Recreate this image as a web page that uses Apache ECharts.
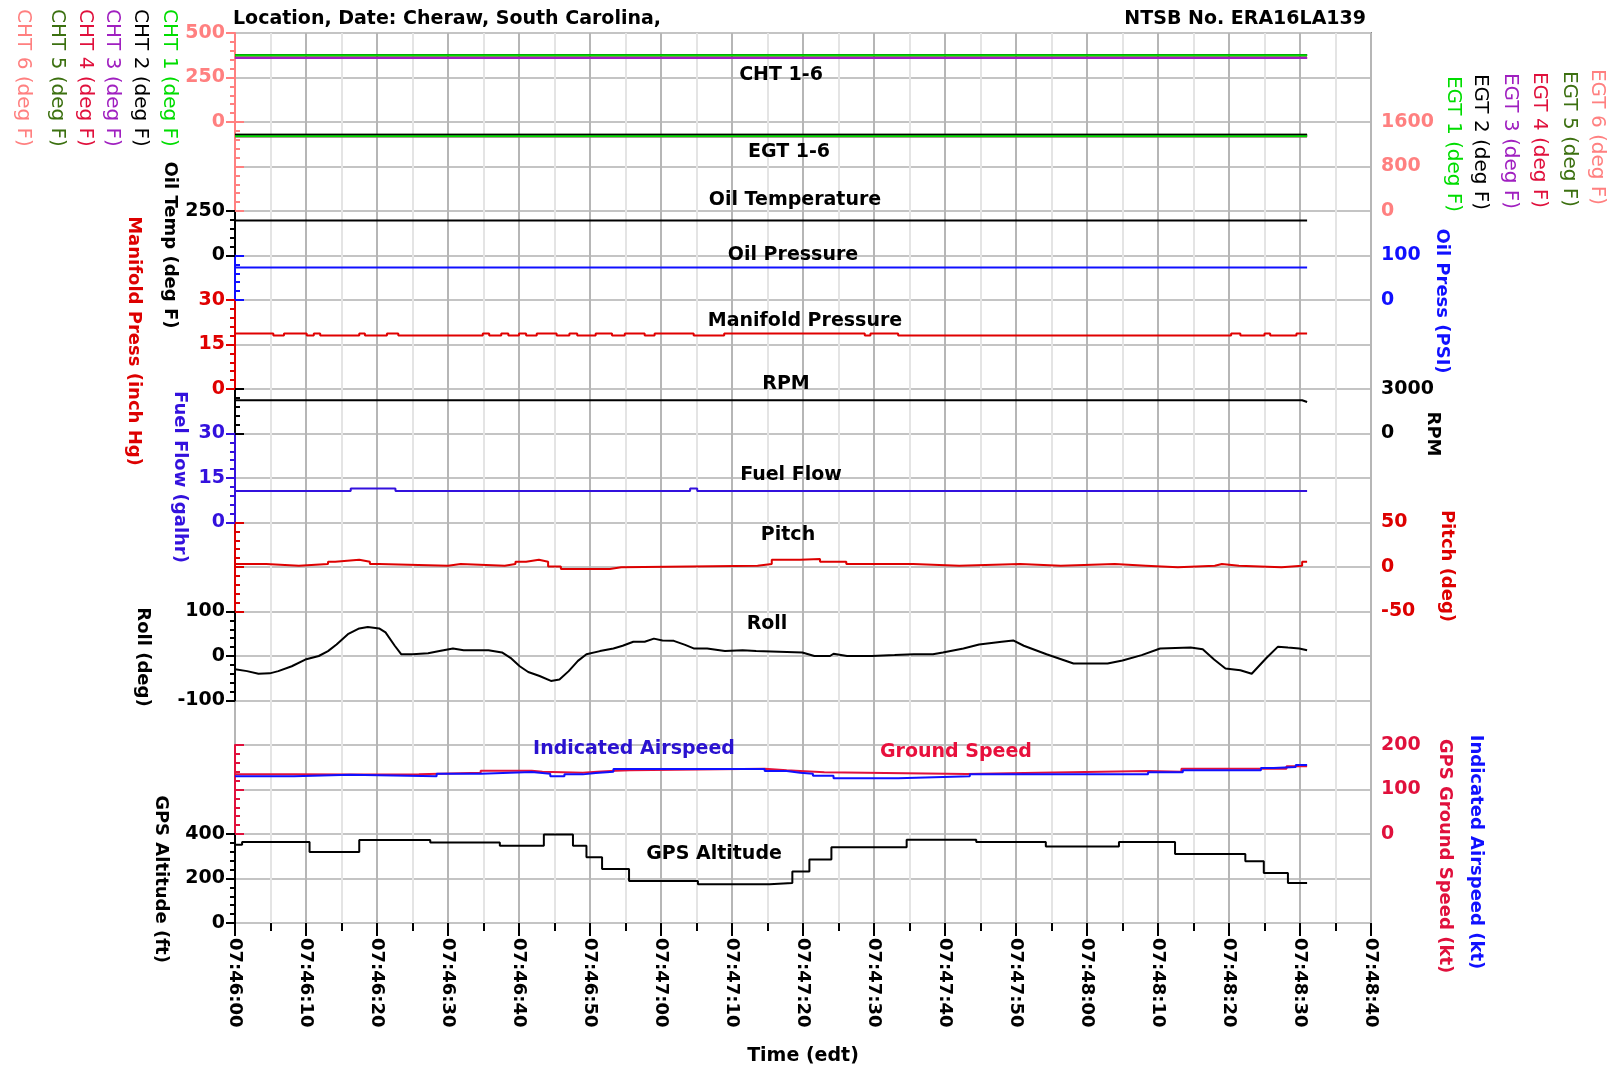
<!DOCTYPE html>
<html>
<head>
<meta charset="utf-8">
<script src="https://cdn.jsdelivr.net/npm/echarts@6/dist/echarts.min.js"></script>
<style>
html, body { margin: 0; padding: 0; background: #fff; }
#chart { width: 1623px; height: 1070px; }
</style>
</head>
<body>
<div id="chart"></div>
<script>
// Engine and flight parameters, time in seconds after 07:46:00 EDT
const timeStartSec = 7 * 3600 + 46 * 60;
const axisEndSec = 160;          // 07:48:40
const recordEndSec = 151;        // last recorded sample

// Cylinder head temperatures, CHT 1..6 (deg F)
const chtValues = [375, 375, 360, 361, 375, 360];
// Exhaust gas temperatures, EGT 1..6 (deg F)
const egtValues = [1345, 1370, 1345, 1345, 1370, 1345];
const oilTempValue = 197;        // deg F
const oilPressValue = 73;        // PSI
const rpmData = [[0, 2240], [150.3, 2240], [151, 2120]];

// Stepped series: [seconds, value] holds until next sample
const manifoldData = [
  [0, 18.7], [5.4, 18.0], [6.9, 18.7], [10.1, 18.0], [11.1, 18.7], [12.0, 18.0],
  [17.5, 18.7], [18.3, 18.0], [21.4, 18.7], [23.0, 18.0], [34.9, 18.7], [35.8, 18.0],
  [37.5, 18.7], [38.5, 18.0], [40.0, 18.7], [41.0, 18.0], [42.5, 18.7], [45.3, 18.0],
  [47.1, 18.7], [48.2, 18.0], [50.8, 18.7], [53.1, 18.0], [54.9, 18.7], [57.7, 18.0],
  [59.1, 18.7], [64.6, 18.0], [68.9, 18.7], [88.7, 18.0], [89.5, 18.7], [93.4, 18.0],
  [140.3, 18.7], [141.6, 18.0], [145.0, 18.7], [145.8, 18.0], [149.5, 18.7], [151, 18.7]
];
const fuelFlowData = [[0, 10.6], [16.3, 11.5], [22.6, 10.6], [64.1, 11.5], [65.1, 10.6], [151, 10.6]];
const pitchData = [
  [0, 3.4], [4.4, 1.5], [9.0, 3.4], [13.1, 6.0], [14.1, 8.2], [17.5, 6.0], [19.0, 3.4],
  [20.3, 1.5], [30.0, 3.4], [31.8, 1.5], [38.0, 3.4], [39.5, 6.0], [41.0, 8.2], [42.8, 6.0],
  [44.1, 0.7], [45.9, -2.3], [52.8, -0.4], [54.4, 1.5], [73.6, 3.4], [75.6, 8.2], [79.6, 9.0],
  [82.4, 6.0], [86.1, 3.4], [95.5, 1.5], [102.0, 3.4], [110.6, 1.5], [116.3, 3.4], [123.9, 1.5],
  [128.3, -0.4], [132.8, 1.5], [138.0, 3.4], [139.0, 1.5], [141.4, -0.4], [147.4, 1.5],
  [150.3, 6.0], [151, 6.0]
];
const rollData = [
  [0, -30], [1.7, -34], [3.3, -40], [4.9, -39], [6.1, -34], [8.0, -23], [9.9, -8], [11.8, 0],
  [13.1, 11], [14.3, 26], [15.9, 49], [17.5, 62], [18.7, 65], [20.3, 62], [21.2, 53], [22.5, 23],
  [23.4, 4], [25.0, 4], [27.2, 6], [28.8, 11], [30.7, 17], [32.2, 13], [35.7, 13], [37.6, 8],
  [38.8, -4], [40.1, -23], [41.3, -36], [42.9, -45], [44.5, -56], [45.7, -53], [47.0, -34],
  [48.3, -11], [49.5, 4], [51.4, 11], [53.3, 17], [54.6, 23], [56.1, 32], [57.7, 32], [59.0, 39],
  [60.2, 35], [61.8, 34], [63.4, 25], [64.6, 17], [66.5, 17], [69.0, 11], [71.5, 13], [73.4, 11],
  [79.9, 8], [81.6, 0], [83.8, 0], [84.3, 5], [86.2, 0], [89.7, 0], [92.9, 2], [95.6, 4],
  [98.3, 4], [99.7, 8], [102.6, 17], [104.8, 26], [108.0, 32], [109.6, 35], [111.1, 23],
  [114.3, 4], [118.1, -17], [122.9, -17], [125.0, -10], [127.7, 2], [130.3, 17], [134.6, 19],
  [136.3, 15], [137.9, -8], [139.5, -28], [141.6, -32], [143.2, -40], [145.3, -4], [146.9, 21],
  [148.3, 19], [149.9, 17], [151, 13]
];
const groundSpeedData = [
  [0, 134], [8.3, 133.5], [16.2, 134], [25.9, 137.7], [34.6, 142.2], [41.8, 140], [43.3, 137.7],
  [49.0, 140], [51.0, 142.2], [53.6, 143], [55.6, 146.7], [74.6, 143], [77.7, 141.5],
  [79.6, 138.5], [83.0, 134.7], [103.0, 137.7], [113.2, 141.5], [128.6, 140], [133.3, 146.7],
  [148.1, 152], [151, 152]
];
const airspeedData = [
  [0, 129.5], [8.3, 133.2], [16.2, 129.5], [28.4, 135.5], [34.6, 139.2], [41.8, 135.5],
  [44.4, 129.5], [46.4, 134], [49.0, 137], [50.8, 140], [53.3, 146], [74.6, 141.5],
  [77.7, 137.7], [79.6, 135.5], [81.4, 130.7], [84.3, 125.5], [93.4, 129.5], [103.5, 134],
  [128.6, 138.5], [133.5, 143], [144.5, 148.2], [146.3, 150.5], [149.4, 155], [151, 155]
];
const gpsAltitudeData = [
  [0, 352], [1.0, 364], [10.5, 319], [17.5, 373], [27.5, 362], [37.3, 347], [43.5, 398],
  [47.6, 347], [49.5, 295], [51.7, 243], [55.5, 189], [65.2, 174], [75.3, 180], [78.5, 232],
  [80.9, 285], [84.0, 340], [94.6, 374], [104.4, 364], [114.2, 344], [124.5, 364], [132.4, 310],
  [142.3, 277], [144.9, 225], [148.3, 180], [151, 180]
];

const cylColors = ['#00dd00', '#000000', '#a020c0', '#e0103c', '#3c7010', '#ff8080'];
const FONT = 'DejaVu Sans';

// Plot frame: 20 equal rows
const plotLeft = 235, plotTop = 33, plotWidth = 1136, plotHeight = 890;
const rowH = plotHeight / 20;

const panels = [
  { rows: [0, 2], side: 'left', min: 0, max: 500, step: 250, color: '#ff8080' },      // CHT
  { rows: [2, 4], side: 'right', min: 0, max: 1600, step: 800, color: '#ff8080' },    // EGT
  { rows: [4, 5], side: 'left', min: 0, max: 250, step: 250, color: '#000000' },      // oil temp
  { rows: [5, 6], side: 'right', min: 0, max: 100, step: 100, color: '#1010ff' },     // oil press
  { rows: [6, 8], side: 'left', min: 0, max: 30, step: 15, color: '#e00000' },        // manifold
  { rows: [8, 9], side: 'right', min: 0, max: 3000, step: 3000, color: '#000000' },   // rpm
  { rows: [9, 11], side: 'left', min: 0, max: 30, step: 15, color: '#3311dd' },       // fuel flow
  { rows: [11, 13], side: 'right', min: -50, max: 50, step: 50, color: '#dd0000' },   // pitch
  { rows: [13, 15], side: 'left', min: -100, max: 100, step: 100, color: '#000000' }, // roll
  { rows: [16, 18], side: 'right', min: 0, max: 200, step: 100, color: '#e0103c' },   // speeds
  { rows: [18, 20], side: 'left', min: 0, max: 400, step: 200, color: '#000000' }     // altitude
];

function fmtTime(v) {
  const s = Math.round(timeStartSec + v);
  const p = n => String(n).padStart(2, '0');
  return p(Math.floor(s / 3600)) + ':' + p(Math.floor(s / 60) % 60) + ':' + p(s % 60);
}

const grids = [{ left: plotLeft, top: plotTop, width: plotWidth, height: plotHeight,
  show: true, borderColor: '#8a8a8a', borderWidth: 2, backgroundColor: '#fff' }];
const xAxes = [{
  gridIndex: 0, type: 'value', min: 0, max: axisEndSec, interval: 10,
  axisLine: { show: false },
  axisTick: { show: true, length: 13, lineStyle: { color: '#000', width: 2 } },
  minorTick: { show: true, splitNumber: 2, length: 8, lineStyle: { color: '#000', width: 2 } },
  splitLine: { show: true, lineStyle: { color: '#b6b6b6', width: 2 } },
  minorSplitLine: { show: true, lineStyle: { color: '#e4e4e4', width: 2 } },
  axisLabel: { rotate: -90, margin: 15, color: '#000', fontFamily: FONT, fontWeight: 'bold',
    fontSize: 18, formatter: fmtTime, showMinLabel: true, showMaxLabel: true }
}];
const yAxes = [{
  gridIndex: 0, type: 'value', min: 0, max: 20, interval: 1,
  axisLine: { show: false }, axisTick: { show: false }, axisLabel: { show: false },
  splitLine: { show: true, lineStyle: { color: '#c4c4c4', width: 2 } }
}];

panels.forEach((p, i) => {
  grids.push({ left: plotLeft, width: plotWidth, top: plotTop + p.rows[0] * rowH,
    height: (p.rows[1] - p.rows[0]) * rowH, show: false });
  xAxes.push({ gridIndex: i + 1, type: 'value', min: 0, max: axisEndSec, show: false });
  yAxes.push({
    gridIndex: i + 1, type: 'value', position: p.side, min: p.min, max: p.max, interval: p.step,
    axisLine: { show: true, lineStyle: { color: p.color, width: 2 } },
    axisTick: { show: true, length: 9, lineStyle: { color: p.color, width: 2 } },
    minorTick: { show: true, splitNumber: 5, length: 5, lineStyle: { color: p.color, width: 2 } },
    splitLine: { show: false },
    axisLabel: { color: p.color, fontFamily: FONT, fontWeight: 'bold', fontSize: 19, margin: 10,
      showMinLabel: true, showMaxLabel: true, formatter: v => String(v) }
  });
});

function line(panel, data, color, step) {
  return { type: 'line', xAxisIndex: panel + 1, yAxisIndex: panel + 1, data: data,
    step: step || false, symbol: 'none', silent: true,
    lineStyle: { color: color, width: 2 }, itemStyle: { color: color } };
}
const flat = v => [[0, v], [recordEndSec, v]];

const series = [];
[5, 4, 3, 2, 1, 0].forEach(k => series.push(line(0, flat(chtValues[k]), cylColors[k])));
[5, 4, 3, 2, 1, 0].forEach(k => series.push(line(1, flat(egtValues[k]), cylColors[k])));
series.push(line(2, flat(oilTempValue), '#000000'));
series.push(line(3, flat(oilPressValue), '#1010ff'));
series.push(line(4, manifoldData, '#e00000', 'end'));
series.push(line(5, rpmData, '#000000'));
series.push(line(6, fuelFlowData, '#3311dd', 'end'));
series.push(line(7, pitchData, '#dd0000', 'end'));
series.push(line(8, rollData, '#000000'));
series.push(line(9, groundSpeedData, '#e0103c', 'end'));
series.push(line(9, airspeedData, '#1010ff', 'end'));
series.push(line(10, gpsAltitudeData, '#000000', 'end'));

function txt(x, y, text, color, opt) {
  opt = opt || {};
  return { type: 'text', x: x, y: y, rotation: opt.vertical ? -Math.PI / 2 : 0, silent: true, z: 10,
    style: { text: text, fill: color, fontFamily: FONT, fontWeight: opt.weight || 'bold',
      fontSize: opt.size || 19, align: opt.align || 'center', verticalAlign: 'middle' } };
}
const V = { vertical: true, size: 18 };
const VR = { vertical: true, size: 20, weight: 'normal' };

const graphics = [
  txt(233, 19, 'Location, Date: Cheraw, South Carolina,', '#000', { align: 'left' }),
  txt(1366, 19, 'NTSB No. ERA16LA139', '#000', { align: 'right' }),
  txt(781, 75, 'CHT 1-6', '#000'),
  txt(789, 152, 'EGT 1-6', '#000'),
  txt(795, 200, 'Oil Temperature', '#000'),
  txt(793, 255, 'Oil Pressure', '#000'),
  txt(805, 321, 'Manifold Pressure', '#000'),
  txt(786, 384, 'RPM', '#000'),
  txt(791, 475, 'Fuel Flow', '#000'),
  txt(788, 535, 'Pitch', '#000'),
  txt(767, 624, 'Roll', '#000'),
  txt(634, 749, 'Indicated Airspeed', '#2a12d0'),
  txt(956, 752, 'Ground Speed', '#e8103c'),
  txt(714, 854, 'GPS Altitude', '#000'),
  txt(803, 1056, 'Time (edt)', '#000'),
  // left axis titles
  txt(169, 78, 'CHT 1 (deg F)', cylColors[0], VR),
  txt(140, 78, 'CHT 2 (deg F)', cylColors[1], VR),
  txt(112, 78, 'CHT 3 (deg F)', cylColors[2], VR),
  txt(85, 78, 'CHT 4 (deg F)', cylColors[3], VR),
  txt(57, 78, 'CHT 5 (deg F)', cylColors[4], VR),
  txt(23, 78, 'CHT 6 (deg F)', cylColors[5], VR),
  txt(170, 245, 'Oil Temp (deg F)', '#000', V),
  txt(134, 341, 'Manifold Press (inch Hg)', '#dd0000', V),
  txt(180, 477, 'Fuel Flow (galhr)', '#3311dd', V),
  txt(143, 657, 'Roll (deg)', '#000', V),
  txt(161, 879, 'GPS Altitude (ft)', '#000', V),
  // right axis titles
  txt(1453, 144, 'EGT 1 (deg F)', cylColors[0], VR),
  txt(1480, 142, 'EGT 2 (deg F)', cylColors[1], VR),
  txt(1510, 141, 'EGT 3 (deg F)', cylColors[2], VR),
  txt(1539, 140, 'EGT 4 (deg F)', cylColors[3], VR),
  txt(1569, 139, 'EGT 5 (deg F)', cylColors[4], VR),
  txt(1597, 137, 'EGT 6 (deg F)', cylColors[5], VR),
  txt(1442, 301, 'Oil Press (PSI)', '#1010ff', V),
  txt(1433, 434, 'RPM', '#000', V),
  txt(1447, 566, 'Pitch (deg)', '#dd0000', V),
  txt(1445, 856, 'GPS Ground Speed (kt)', '#e0103c', V),
  txt(1476, 852, 'Indicated Airspeed (kt)', '#1010ff', V)
];

const chart = echarts.init(document.getElementById('chart'), null, { renderer: 'canvas' });
chart.setOption({
  animation: false,
  backgroundColor: '#ffffff',
  grid: grids,
  xAxis: xAxes,
  yAxis: yAxes,
  series: series,
  graphic: graphics
});
</script>
</body>
</html>
